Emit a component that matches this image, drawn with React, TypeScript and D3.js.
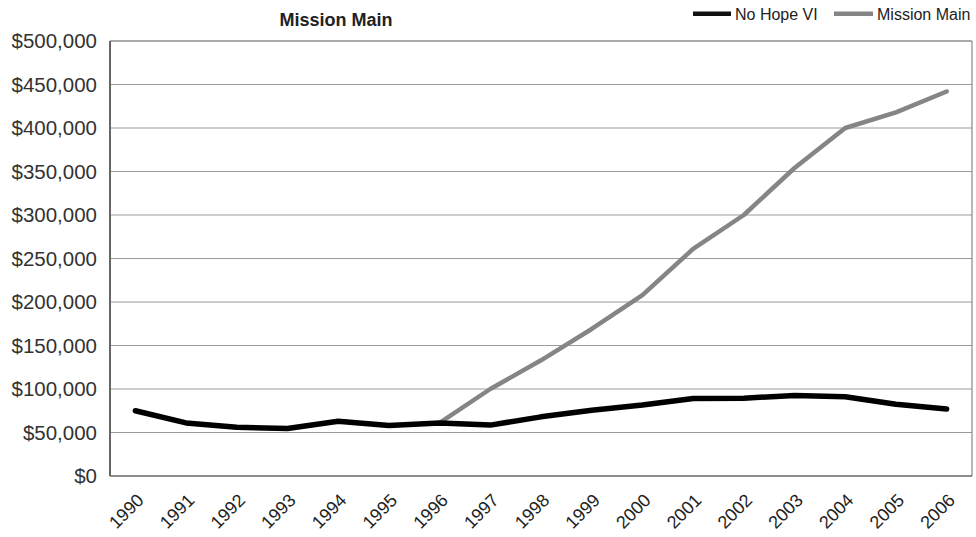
import React from "react";
import * as d3 from "d3";

const years = ["1990","1991","1992","1993","1994","1995","1996","1997","1998","1999","2000","2001","2002","2003","2004","2005","2006"];
const noHopeVI = [75000, 61000, 56000, 54500, 63000, 58000, 61000, 58500, 68000, 75500, 81500, 89000, 89500, 92500, 91000, 82500, 77000];
const missionMain: (number | null)[] = [null, null, null, null, null, null, 61000, 100000, 133000, 169000, 208000, 261000, 300000, 354000, 400000, 418000, 442000];
const yTicks = [0, 50000, 100000, 150000, 200000, 250000, 300000, 350000, 400000, 450000, 500000];

const W = 976, H = 537;
const L = 110, R = 972, T = 41, B = 476;

export default function App() {
  const x = d3.scaleBand<string>().domain(years).range([L, R]);
  const cx = (y: string) => (x(y) as number) + x.bandwidth() / 2;
  const y = d3.scaleLinear().domain([0, 500000]).range([B, T]);
  const fmt = (v: number) => "$" + d3.format(",")(v);

  const lineBlack = d3.line<number>().x((_, i) => cx(years[i])).y((d) => y(d));
  const lineGray = d3
    .line<number | null>()
    .defined((d) => d !== null)
    .x((_, i) => cx(years[i]))
    .y((d) => y(d as number));

  const font = "'Liberation Sans', Arial, Helvetica, sans-serif";

  return (
    <svg width={W} height={H} style={{ position: "absolute", left: 0, top: 0 }} fontFamily={font}>
      <rect x={0} y={0} width={W} height={H} fill="#fff" />
      {yTicks.map((t) => (
        <g key={t}>
          {t > 0 && <line x1={L} x2={R} y1={y(t)} y2={y(t)} stroke="#9a9a9a" strokeWidth={1.2} />}
          <text x={97} y={y(t)} dy="0.36em" textAnchor="end" fontSize={20.5} fill="#333">
            {fmt(t)}
          </text>
        </g>
      ))}
      <line x1={L} x2={R} y1={T} y2={T} stroke="#888" strokeWidth={1.2} />
      <line x1={R} x2={R} y1={T} y2={B} stroke="#888" strokeWidth={1.2} />
      <line x1={L} x2={R} y1={B} y2={B} stroke="#666" strokeWidth={1.5} />
      <line x1={L} x2={L} y1={T} y2={B} stroke="#666" strokeWidth={2} />
      {years.map((yr) => (
        <text
          key={yr}
          transform={`translate(${cx(yr) + 5},${497}) rotate(-45)`}
          textAnchor="end"
          dy="0.35em"
          fontSize={18}
          fill="#222"
        >
          {yr}
        </text>
      ))}
      <path d={lineGray(missionMain) || ""} fill="none" stroke="#858585" strokeWidth={4.5} strokeLinejoin="round" strokeLinecap="round" />
      <path d={lineBlack(noHopeVI) || ""} fill="none" stroke="#000" strokeWidth={5.5} strokeLinejoin="round" strokeLinecap="round" />
      <text x={336} y={26} textAnchor="middle" fontSize={18} fontWeight="bold" fill="#222">
        Mission Main
      </text>
      <g fontSize={16} fill="#222">
        <rect x={693} y={11.5} width={38} height={4.5} fill="#111" />
        <text x={735} y={14} dy="0.36em">No Hope VI</text>
        <rect x={834} y={11.5} width={39} height={4.5} fill="#858585" />
        <text x={877} y={14} dy="0.36em">Mission Main</text>
      </g>
    </svg>
  );
}
